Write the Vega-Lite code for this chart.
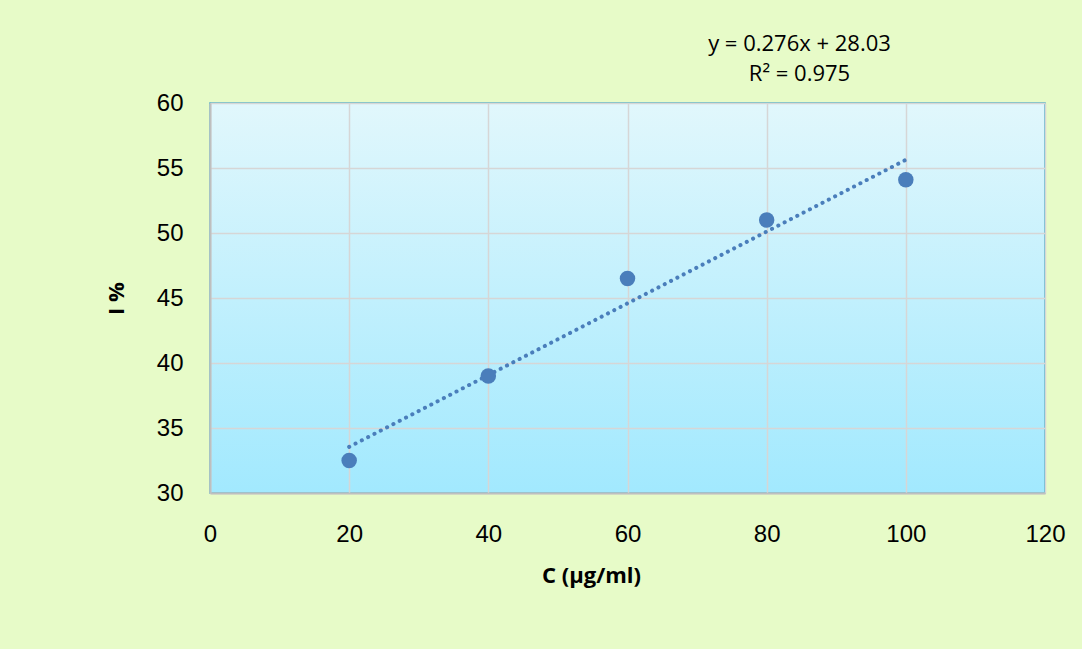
{
  "$schema": "https://vega.github.io/schema/vega-lite/v6.json",
  "width": 835,
  "height": 390,
  "autosize": {"type": "none"},
  "padding": {"left": 210, "top": 103, "right": 37, "bottom": 156},
  "background": "#e7fbc8",
  "title": {
    "text": "y = 0.276x + 28.03",
    "subtitle": "R² = 0.975",
    "anchor": "middle",
    "dx": 172,
    "offset": 5,
    "font": "Open Sans",
    "subtitleFont": "Open Sans",
    "fontSize": 22,
    "subtitleFontSize": 22,
    "fontWeight": "normal",
    "color": "#000000",
    "subtitleColor": "#000000",
    "subtitlePadding": 8
  },
  "config": {
    "view": {
      "stroke": "#4bacc6",
      "strokeWidth": 1.5,
      "fill": {
        "gradient": "linear",
        "x1": 0, "y1": 0, "x2": 0, "y2": 1,
        "stops": [
          {"offset": 0, "color": "#e1f7fc"},
          {"offset": 1, "color": "#a2e9fe"}
        ]
      }
    },
    "axis": {
      "labelFont": "Liberation Sans",
      "labelFontSize": 24,
      "labelColor": "#000000",
      "labelFlush": false,
      "ticks": false,
      "gridColor": "#d6d6d6",
      "gridWidth": 1.5,
      "gridOpacity": 1,
      "domainColor": "#bfbfbf",
      "domainWidth": 2,
      "titleFont": "Open Sans",
      "titleFontSize": 22,
      "titleFontWeight": "bold",
      "titleColor": "#000000"
    }
  },
  "datasets": {
    "points": [
      {"c": 20, "i": 32.5},
      {"c": 40, "i": 39.0},
      {"c": 60, "i": 46.5},
      {"c": 80, "i": 51.0},
      {"c": 100, "i": 54.1}
    ],
    "trend": [
      {"c": 20, "i": 33.55},
      {"c": 100, "i": 55.63}
    ]
  },
  "layer": [
    {
      "data": {"name": "trend"},
      "mark": {"type": "line", "color": "#4a7ebb", "strokeWidth": 4, "strokeDash": [0.1, 7], "strokeCap": "round"},
      "encoding": {
        "x": {"field": "c", "type": "quantitative", "scale": {"domain": [0, 120]},
          "axis": {"title": "C (µg/ml)", "values": [0, 20, 40, 60, 80, 100, 120], "labelPadding": 29, "titlePadding": 19, "titleX": 381}},
        "y": {"field": "i", "type": "quantitative", "scale": {"domain": [30, 60]},
          "axis": {"title": "I %", "values": [30, 35, 40, 45, 50, 55, 60], "labelPadding": 27, "titlePadding": 28}}
      }
    },
    {
      "data": {"name": "points"},
      "mark": {"type": "point", "filled": true, "size": 240, "color": "#4a7ebb", "opacity": 1},
      "encoding": {
        "x": {"field": "c", "type": "quantitative"},
        "y": {"field": "i", "type": "quantitative"}
      }
    }
  ]
}
